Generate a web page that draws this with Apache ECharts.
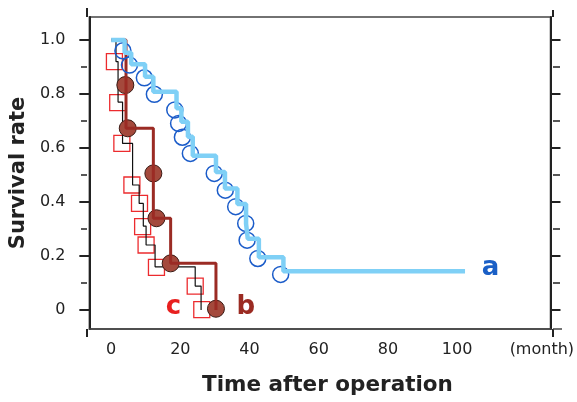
<!DOCTYPE html>
<html><head><meta charset="utf-8">
<script src="https://cdn.jsdelivr.net/npm/echarts@6/dist/echarts.min.js"></script>
<style>html,body{margin:0;padding:0;background:#fff}#c{width:577px;height:402px}</style>
</head><body><div id="c"></div>
<script>
// ---- tick labels ----
const yTicks = [0, 0.2, 0.4, 0.6, 0.8, 1.0];
const yMinorTicks = [0.1, 0.3, 0.5, 0.7, 0.9];
const xTicks = [0, 20, 40, 60, 80, 100];
const xUnitValue = 124.5;
const xUnitLabel = '(month)';
const xName = 'Time after operation';
const yName = 'Survival rate';

// ---- curve a (step line) ----
const aTime = [0, 3.9, 5.8, 9.8, 12.2, 18.9, 20.3, 22.2, 23.6, 30.3, 32.9, 36.5, 39.0, 39.5, 42.7, 49.8, 102.3];
const aSurv = [1.0, 0.953, 0.91, 0.864, 0.808, 0.747, 0.697, 0.642, 0.571, 0.511, 0.45, 0.393, 0.32, 0.264, 0.196, 0.144, 0.144];
const aMarkTime = [3.4, 5.3, 9.6, 12.5, 18.4, 19.5, 20.6, 22.9, 29.8, 33.0, 36.0, 38.9, 39.3, 42.4, 49.0];
const aMarkSurv = [0.96, 0.907, 0.86, 0.799, 0.741, 0.691, 0.64, 0.58, 0.506, 0.444, 0.383, 0.321, 0.259, 0.191, 0.132];

// ---- curve b ----
const bTime = [0, 4.3, 12.2, 17.2, 30.3];
const bSurv = [1.0, 0.673, 0.34, 0.173, 0.0];
const bMarkTime = [4.1, 4.8, 12.2, 13.1, 17.2, 30.3];
const bMarkSurv = [0.833, 0.673, 0.506, 0.34, 0.173, 0.005];

// ---- curve c ----
const cTime = [0, 1.4, 2.0, 3.3, 6.2, 8.1, 9.3, 10.1, 12.7, 24.3, 26.0];
const cSurv = [1.0, 0.92, 0.77, 0.617, 0.463, 0.395, 0.311, 0.241, 0.16, 0.089, 0.0];
const cMarkTime = [0.95, 1.9, 3.1, 6.0, 8.2, 9.1, 10.1, 13.1, 24.3, 26.2];
const cMarkSurv = [0.92, 0.768, 0.617, 0.463, 0.395, 0.309, 0.241, 0.158, 0.089, 0.002];

// ---- curve labels ----
const curveNames = ['a', 'b', 'c'];
const curveLabelTime = [109.7, 38.9, 18.0];
const curveLabelSurv = [0.155, 0.012, 0.012];

const zip = (xs, ys) => xs.map((x, i) => [x, ys[i]]);
const FONT = 'DejaVu Sans';
const X_MIN = -6.3, X_MAX = 127, Y_MIN = -0.07, Y_MAX = 1.085;
const W = 577, H = 402;
const gridRect = { left: 87, right: 24, top: 17, bottom: 73 };
const colA = '#7fd0f6', colAmark = '#1b5cc9', colB = '#9b2b24', colBfill = '#a4493c', colC = '#111111', colCmark = '#ec2b2e';
const labelColors = ['#1a5fc6', '#9b2b22', '#e8201f'];

// frame extensions (axis lines overshoot the frame a little, as in the reference)
const gL = gridRect.left, gR = W - gridRect.right, gT = gridRect.top, gB = H - gridRect.bottom;
const ext = (x1, y1, x2, y2, w, c) => ({ type: 'line', silent: true, z: 1,
  shape: { x1, y1, x2, y2 }, style: { stroke: c, lineWidth: w } });

const chart = echarts.init(document.getElementById('c'), null, { renderer: 'canvas' });
chart.setOption({
  animation: false,
  backgroundColor: '#ffffff',
  graphic: [
    ext(gL, gT - 9, gL, gT, 2, '#222'),
    ext(gL, gB, gL, gB + 8, 2, '#222'),
    ext(gR, gT - 7, gR, gT, 2, '#222'),
    ext(gR, gB, gR, gB + 8, 2, '#222'),
    ext(gR, gB, gR + 9, gB, 1.5, '#444')
  ],
  grid: [
    Object.assign({ show: true, borderColor: '#444', borderWidth: 1.5, backgroundColor: 'transparent' }, gridRect),
    Object.assign({ show: false }, gridRect)
  ],
  xAxis: [
    {
      type: 'value', gridIndex: 0, min: X_MIN, max: X_MAX,
      axisLine: { show: true, onZero: false, lineStyle: { color: '#444', width: 1.5 } },
      axisTick: { show: false },
      splitLine: { show: false },
      axisLabel: {
        customValues: xTicks.concat([xUnitValue]),
        formatter: v => (v === xUnitValue ? xUnitLabel : String(v)),
        margin: 13, color: '#222', fontSize: 16, fontFamily: FONT
      },
      name: xName, nameLocation: 'middle', nameGap: 45,
      nameTextStyle: { fontFamily: FONT, fontSize: 21.5, fontWeight: 'bold', color: '#222', padding: [0, 0, 0, 15] }
    },
    { type: 'value', gridIndex: 1, min: X_MIN, max: X_MAX, show: false }
  ],
  yAxis: [
    {
      type: 'value', gridIndex: 0, position: 'left', min: Y_MIN, max: Y_MAX,
      axisLine: { show: true, onZero: false, lineStyle: { color: '#222', width: 2 } },
      axisTick: { show: true, customValues: yTicks, length: 10, lineStyle: { color: '#222', width: 2 } },
      splitLine: { show: false },
      axisLabel: {
        customValues: yTicks,
        formatter: v => (v === 0 ? '0' : v.toFixed(1)),
        margin: 24, color: '#222', fontSize: 16, fontFamily: FONT
      },
      name: yName, nameLocation: 'middle', nameGap: 46,
      nameTextStyle: { fontFamily: FONT, fontSize: 21, fontWeight: 'bold', color: '#222' }
    },
    {
      type: 'value', gridIndex: 0, position: 'right', min: Y_MIN, max: Y_MAX,
      axisLine: { show: true, onZero: false, lineStyle: { color: '#222', width: 2 } },
      axisTick: { show: true, customValues: yTicks, length: 10, lineStyle: { color: '#222', width: 2 } },
      axisLabel: { show: false }, splitLine: { show: false }
    },
    {
      type: 'value', gridIndex: 1, position: 'left', min: Y_MIN, max: Y_MAX,
      axisLine: { show: false, onZero: false },
      axisTick: { show: true, customValues: yMinorTicks, length: 6, lineStyle: { color: '#222', width: 1.5 } },
      axisLabel: { show: false }, splitLine: { show: false }
    },
    {
      type: 'value', gridIndex: 1, position: 'right', min: Y_MIN, max: Y_MAX,
      axisLine: { show: false, onZero: false },
      axisTick: { show: true, customValues: yMinorTicks, length: 7, lineStyle: { color: '#222', width: 1.5 } },
      axisLabel: { show: false }, splitLine: { show: false }
    }
  ],
  series: [
    { type: 'scatter', name: 'c marks', data: zip(cMarkTime, cMarkSurv), symbol: 'rect', symbolSize: 16,
      itemStyle: { color: 'rgba(255,255,255,0)', borderColor: colCmark, borderWidth: 1.3, opacity: 1 }, z: 2, silent: true },
    { type: 'line', name: 'c', data: zip(cTime, cSurv), step: 'end', showSymbol: false,
      lineStyle: { color: colC, width: 1.2 }, z: 3, silent: true },
    { type: 'scatter', name: 'b marks', data: zip(bMarkTime, bMarkSurv), symbol: 'circle', symbolSize: 17,
      itemStyle: { color: colBfill, borderColor: '#3a1a14', borderWidth: 1, opacity: 1 }, z: 4, silent: true },
    { type: 'line', name: 'b', data: zip(bTime, bSurv), step: 'end', showSymbol: false,
      lineStyle: { color: colB, width: 3 }, z: 5, silent: true },
    { type: 'scatter', name: 'a marks', data: zip(aMarkTime, aMarkSurv), symbol: 'circle', symbolSize: 16,
      itemStyle: { color: 'rgba(255,255,255,0)', borderColor: colAmark, borderWidth: 1.5, opacity: 1 }, z: 6, silent: true },
    { type: 'line', name: 'a', data: zip(aTime, aSurv), step: 'end', showSymbol: false,
      lineStyle: { color: colA, width: 4.5 }, z: 7, silent: true },
    { type: 'scatter', name: 'labels', symbolSize: 0, z: 8, silent: true,
      itemStyle: { opacity: 1 },
      data: curveNames.map((n, i) => ({
        value: [curveLabelTime[i], curveLabelSurv[i]],
        label: { show: true, position: 'inside', formatter: n, color: labelColors[i],
                 fontFamily: FONT, fontWeight: 'bold', fontSize: 26 }
      }))
    }
  ]
});
</script></body></html>
